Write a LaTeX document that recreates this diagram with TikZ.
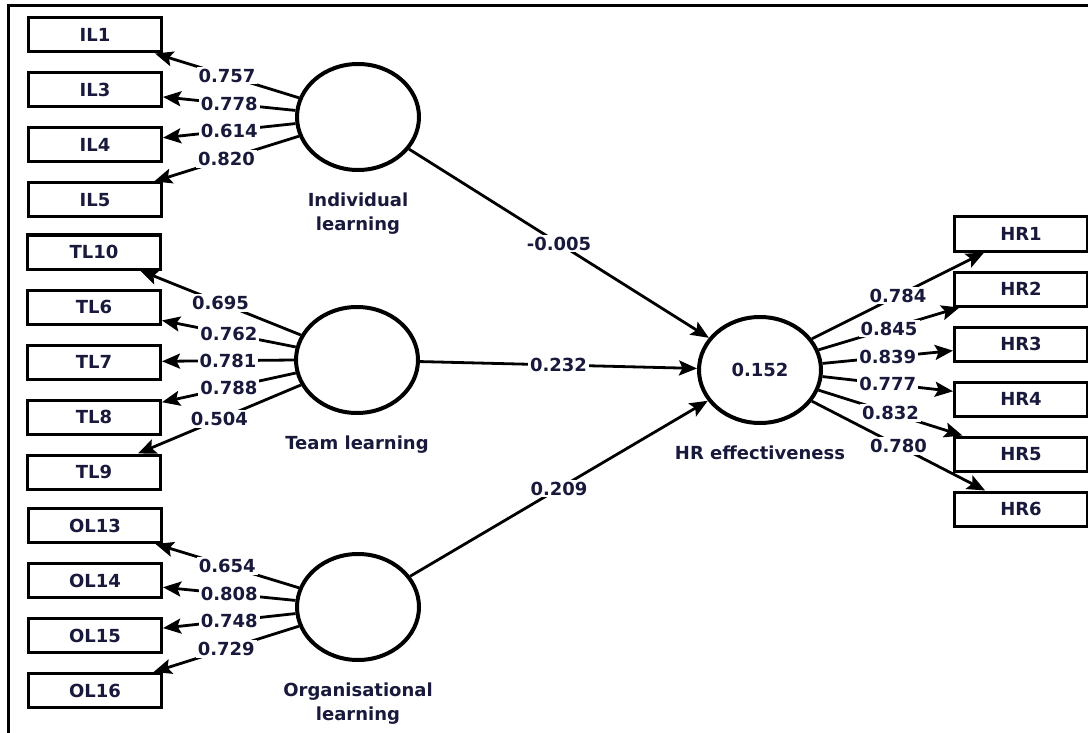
\documentclass[tikz,border=0pt]{standalone}
\usepackage{fontspec}
\setmainfont{DejaVu Sans}
\usetikzlibrary{arrows.meta,positioning,shapes.geometric}
\definecolor{navy}{RGB}{25,25,60}

\begin{document}
\begin{tikzpicture}[x=1pt, y=-1pt,
    every node/.style={font=\bfseries\fontsize{18}{24}\selectfont, text=navy},
    ind/.style={draw, line width=3pt, minimum width=133pt, minimum height=34pt, inner sep=0pt},
    lv/.style={ellipse, draw, line width=4pt, minimum width=122pt, minimum height=106pt},
    lvname/.style={align=center, inner sep=0pt},
    arr/.style={line width=2.8pt, -{Stealth[length=18pt,width=15pt,inset=3.5pt]}},
    coef/.style={fill=white, inner sep=2pt}]
    \useasboundingbox (0,0) rectangle (1088,733);
    \clip (0,0) rectangle (1088,733);
    \draw[line width=2.5pt] (8.5,745) |- (1095,5.3);

    % latent variables
    \node[lv] (il) at (358,117) {};
    \node[lv] (tl) at (357,360) {};
    \node[lv] (ol) at (358,607) {};
    \node[lv] (hr) at (760,370) {0.152};
    \node[lvname, below=21pt of il] (ilname) {Individual\\learning};
    \node[lvname, below=21pt of tl] (tlname) {Team learning};
    \node[lvname, below=21pt of ol] (olname) {Organisational\\learning};
    \node[lvname, below=21pt of hr] (hrname) {HR effectiveness};

    % indicators
    \foreach \n [count=\i from 0] in {1,3,4,5}
        \node[ind] (IL\n) at (95,{35+55*\i}) {IL\n};
    \foreach \n [count=\i from 0] in {10,6,7,8,9}
        \node[ind] (TL\n) at (94,{252+55*\i}) {TL\n};
    \foreach \n [count=\i from 0] in {13,14,15,16}
        \node[ind] (OL\n) at (95,{525.5+55*\i}) {OL\n};
    \foreach \n [count=\i from 0] in {1,...,6}
        \node[ind] (HR\n) at (1021,{234+55*\i}) {HR\n};

    % outer loadings
    \foreach \a/\n/\v in {162/1/0.757, 174/3/0.778, 186/4/0.614, 198/5/0.820}
        \draw[arr] (il.\a) -- node[coef] {\v} (IL\n);
    \foreach \a/\n/\v in {156/10/0.695, 168/6/0.762, 180/7/0.781, 192/8/0.788, 204/9/0.504}
        \draw[arr] (tl.\a) -- node[coef] {\v} (TL\n);
    \foreach \a/\n/\v in {162/13/0.654, 174/14/0.808, 186/15/0.748, 198/16/0.729}
        \draw[arr] (ol.\a) -- node[coef] {\v} (OL\n);
    \foreach \a/\n/\v in {31/1/0.784, 19/2/0.845, 6/3/0.839, -6/4/0.777, -19/5/0.832, -31/6/0.780}
        \draw[arr] (hr.\a) -- node[coef] {\v} (HR\n);

    % path coefficients
    \draw[arr] (il) -- node[coef] {-0.005} (hr);
    \draw[arr] (tl) -- node[coef] {0.232} (hr);
    \draw[arr] (ol) -- node[coef] {0.209} (hr);
\end{tikzpicture}
\end{document}
